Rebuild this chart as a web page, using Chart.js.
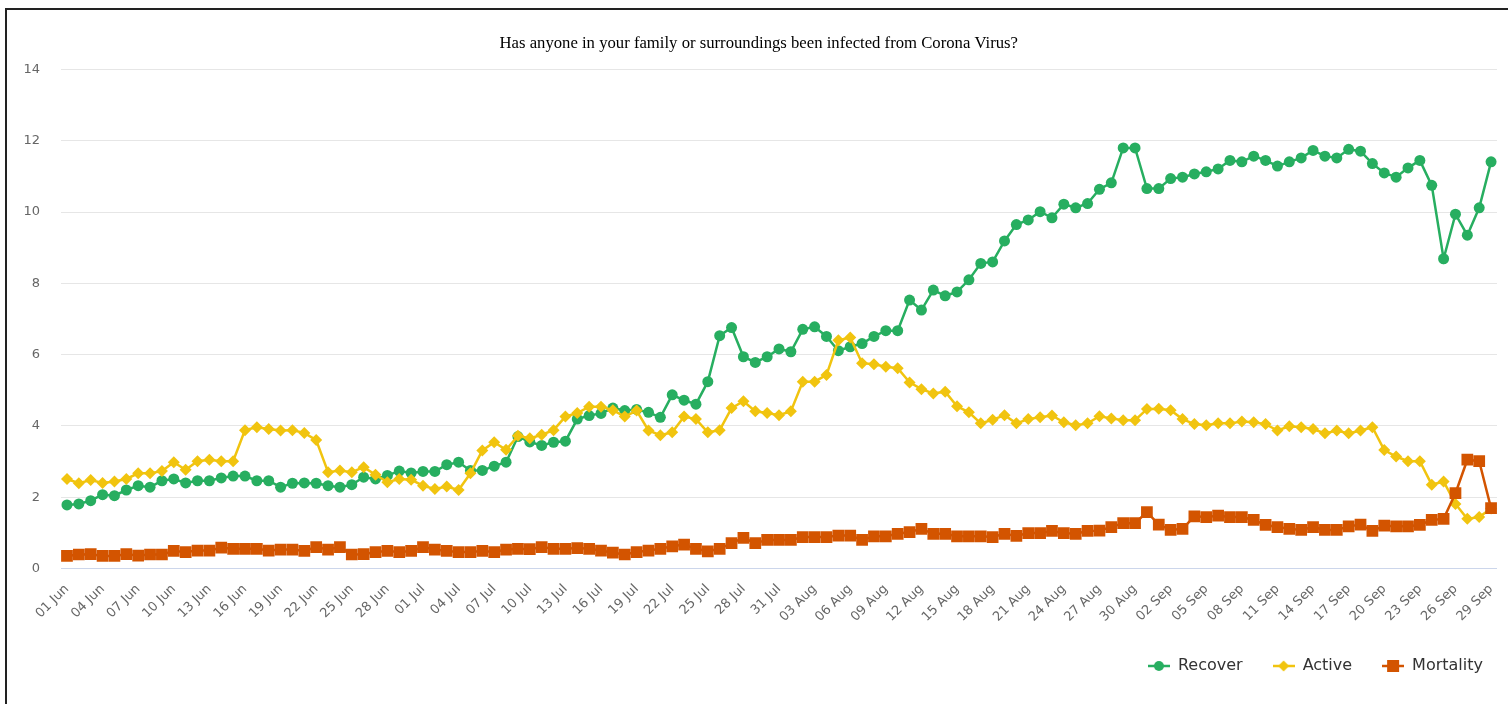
<!DOCTYPE html>
<html>
<head>
<meta charset="utf-8">
<script src="https://cdn.jsdelivr.net/npm/chart.js@4.4.1/dist/chart.umd.min.js"></script>
<style>
  html, body { margin: 0; padding: 0; background: #fff; }
  #wrap { position: relative; width: 1508px; height: 704px; overflow: hidden; }
  #frame { position: absolute; left: 5px; top: 8px; width: 1600px; height: 800px;
           border-left: 2px solid #222; border-top: 2px solid #222; pointer-events: none; }
  canvas { position: absolute; left: 0; top: 0; }
</style>
</head>
<body>
<div id="wrap">
  <canvas id="c" width="1508" height="704"></canvas>
  <div id="frame"></div>
</div>
<script>
// ---- DATA ----
const titleText = 'Has anyone in your family or surroundings been infected from Corona Virus?';
const months = [['Jun', 30], ['Jul', 31], ['Aug', 31], ['Sep', 29]];
const seriesNames = ['Recover', 'Active', 'Mortality'];
const yTicks = [0, 2, 4, 6, 8, 10, 12, 14];

const recover = [
  1.78, 1.81, 1.90, 2.07, 2.04, 2.20, 2.32, 2.28, 2.46, 2.51,
  2.40, 2.46, 2.46, 2.54, 2.59, 2.59, 2.46, 2.46, 2.28, 2.39,
  2.40, 2.39, 2.32, 2.28, 2.35, 2.56, 2.51, 2.61, 2.73, 2.68,
  2.72, 2.72, 2.91, 2.98, 2.75, 2.75, 2.87, 2.98, 3.70, 3.55,
  3.45, 3.54, 3.57, 4.19, 4.29, 4.35, 4.50, 4.43, 4.46, 4.38,
  4.24, 4.87, 4.72, 4.61, 5.24, 6.53, 6.76, 5.94, 5.78, 5.94,
  6.16, 6.08, 6.71, 6.78, 6.51, 6.11, 6.22, 6.31, 6.51, 6.67,
  6.67, 7.53, 7.25, 7.81, 7.65, 7.76, 8.10, 8.56, 8.60, 9.19,
  9.65, 9.78, 10.01, 9.84, 10.22, 10.12, 10.24, 10.64, 10.82, 11.80,
  11.80, 10.66, 10.66, 10.94, 10.98, 11.07, 11.13, 11.21, 11.45, 11.41,
  11.57, 11.45, 11.29, 11.41, 11.52, 11.73, 11.57, 11.52, 11.76, 11.71,
  11.36, 11.10, 10.98, 11.24, 11.45, 10.75, 8.69, 9.94, 9.35, 10.12,
  11.41
];
const active = [
  2.51, 2.39, 2.48, 2.40, 2.44, 2.51, 2.67, 2.67, 2.73, 2.98,
  2.77, 3.01, 3.05, 3.01, 3.01, 3.88, 3.96, 3.91, 3.87, 3.88,
  3.80, 3.60, 2.70, 2.75, 2.70, 2.84, 2.63, 2.42, 2.51, 2.49,
  2.32, 2.23, 2.30, 2.20, 2.67, 3.31, 3.54, 3.33, 3.72, 3.65,
  3.75, 3.88, 4.26, 4.36, 4.54, 4.54, 4.44, 4.26, 4.43, 3.87,
  3.74, 3.82, 4.26, 4.19, 3.82, 3.88, 4.50, 4.69, 4.41, 4.36,
  4.30, 4.41, 5.24, 5.24, 5.43, 6.40, 6.48, 5.76, 5.73, 5.66,
  5.62, 5.22, 5.03, 4.91, 4.96, 4.55, 4.38, 4.07, 4.17, 4.30,
  4.07, 4.19, 4.24, 4.29, 4.10, 4.02, 4.07, 4.27, 4.21, 4.16,
  4.16, 4.47, 4.48, 4.44, 4.19, 4.05, 4.02, 4.07, 4.07, 4.12,
  4.10, 4.05, 3.87, 3.99, 3.96, 3.91, 3.79, 3.87, 3.79, 3.87,
  3.96, 3.32, 3.14, 3.01, 3.01, 2.35, 2.44, 1.81, 1.39, 1.44,
  1.68
];
const mortality = [
  0.35, 0.39, 0.40, 0.35, 0.35, 0.40, 0.36, 0.39, 0.39, 0.49,
  0.46, 0.50, 0.50, 0.58, 0.55, 0.55, 0.55, 0.50, 0.53, 0.53,
  0.49, 0.60, 0.53, 0.60, 0.39, 0.40, 0.46, 0.49, 0.46, 0.49,
  0.60, 0.53, 0.49, 0.46, 0.46, 0.49, 0.46, 0.53, 0.55, 0.54,
  0.60, 0.55, 0.55, 0.57, 0.55, 0.50, 0.44, 0.39, 0.46, 0.50,
  0.55, 0.62, 0.67, 0.55, 0.48, 0.55, 0.71, 0.86, 0.71, 0.80,
  0.80, 0.80, 0.88, 0.88, 0.88, 0.92, 0.92, 0.80, 0.90, 0.90,
  0.97, 1.02, 1.11, 0.97, 0.97, 0.90, 0.90, 0.90, 0.88, 0.97,
  0.91, 0.99, 0.99, 1.05, 0.99, 0.97, 1.05, 1.06, 1.16, 1.27,
  1.27, 1.58, 1.23, 1.08, 1.11, 1.46, 1.44, 1.48, 1.44, 1.44,
  1.36, 1.22, 1.16, 1.11, 1.08, 1.16, 1.08, 1.08, 1.18, 1.23,
  1.05, 1.20, 1.18, 1.18, 1.22, 1.36, 1.39, 2.11, 3.05, 3.01,
  1.69
];

const categories = [];
months.forEach(([m, n]) => {
  for (let d = 1; d <= n; d++) categories.push(String(d).padStart(2, '0') + ' ' + m);
});

// ---- STYLE ----
const colors = ['#27ae60', '#f1c40f', '#d35400'];
const styles = ['circle', 'rectRot', 'rect'];
const radii = [5.5, 6, 8.3];

function legendIcon(color, style) {
  const c = document.createElement('canvas');
  c.width = 22; c.height = 14;
  const g = c.getContext('2d');
  g.strokeStyle = color; g.lineWidth = 2.5;
  g.beginPath(); g.moveTo(0, 7); g.lineTo(22, 7); g.stroke();
  g.fillStyle = color; g.beginPath();
  if (style === 'circle') g.arc(11, 7, 5, 0, Math.PI * 2);
  else if (style === 'rectRot') { g.moveTo(11, 1.5); g.lineTo(16.5, 7); g.lineTo(11, 12.5); g.lineTo(5.5, 7); g.closePath(); }
  else g.rect(5, 1, 12, 12);
  g.fill();
  return c;
}
const icons = colors.map((c, i) => legendIcon(c, styles[i]));

const values = [recover, active, mortality];
const datasets = values.map((v, i) => ({
  label: seriesNames[i],
  data: v,
  borderColor: colors[i],
  backgroundColor: colors[i],
  borderWidth: 2.5,
  pointStyle: styles[i],
  pointRadius: radii[i],
  pointBorderWidth: 0,
  pointBackgroundColor: colors[i],
  tension: 0,
  order: 2 - i
}));

Chart.defaults.font.family = 'DejaVu Sans';

const boxShift = {
  id: 'boxShift',
  afterLayout(chart) {
    const lg = chart.legend;
    if (lg) { lg.left += 16; lg.right += 16; lg.top -= 10; lg.bottom -= 10; }
    const tb = chart.titleBlock;
    if (tb) { tb.left += 9; tb.right += 9; }
  }
};

new Chart(document.getElementById('c'), {
  type: 'line',
  data: { labels: categories, datasets },
  plugins: [boxShift],
  options: {
    responsive: false,
    animation: false,
    layout: { padding: { top: 24, left: 2.5, right: 11, bottom: 10 } },
    plugins: {
      title: {
        display: true, text: titleText, color: '#000',
        font: { family: 'Liberation Serif', size: 16.7, weight: 'normal' },
        padding: { top: 10, bottom: 15.5 }
      },
      legend: {
        position: 'bottom', align: 'end',
        labels: {
          usePointStyle: true, pointStyleWidth: 22, padding: 30,
          color: '#333', font: { family: 'DejaVu Sans', size: 16 },
          generateLabels: (chart) => chart.data.datasets.map((ds, i) => ({
            text: ds.label, pointStyle: icons[i], fillStyle: colors[i],
            strokeStyle: colors[i], lineWidth: 0, fontColor: '#333',
            hidden: !chart.isDatasetVisible(i), datasetIndex: i
          }))
        }
      },
      tooltip: { enabled: false }
    },
    scales: {
      x: {
        offset: true,
        afterFit: (s) => { s.paddingRight = 0; },
        grid: { display: false, drawTicks: false },
        border: { display: false },
        ticks: {
          autoSkip: false, minRotation: 45, maxRotation: 45, padding: 13,
          color: '#666', font: { size: 13 },
          callback: function (v, i) { return i % 3 === 0 ? this.getLabelForValue(v) : ''; }
        }
      },
      y: {
        min: 0, max: 14,
        afterBuildTicks: (s) => { s.ticks = yTicks.map(v => ({ value: v })); },
        grid: {
          drawTicks: false, lineWidth: 1,
          color: (ctx) => ctx.tick && ctx.tick.value === 0 ? '#ccd6eb' : '#e6e6e6'
        },
        border: { display: false },
        ticks: { padding: 21, color: '#666', font: { size: 13 } }
      }
    }
  }
});
</script>
</body>
</html>
